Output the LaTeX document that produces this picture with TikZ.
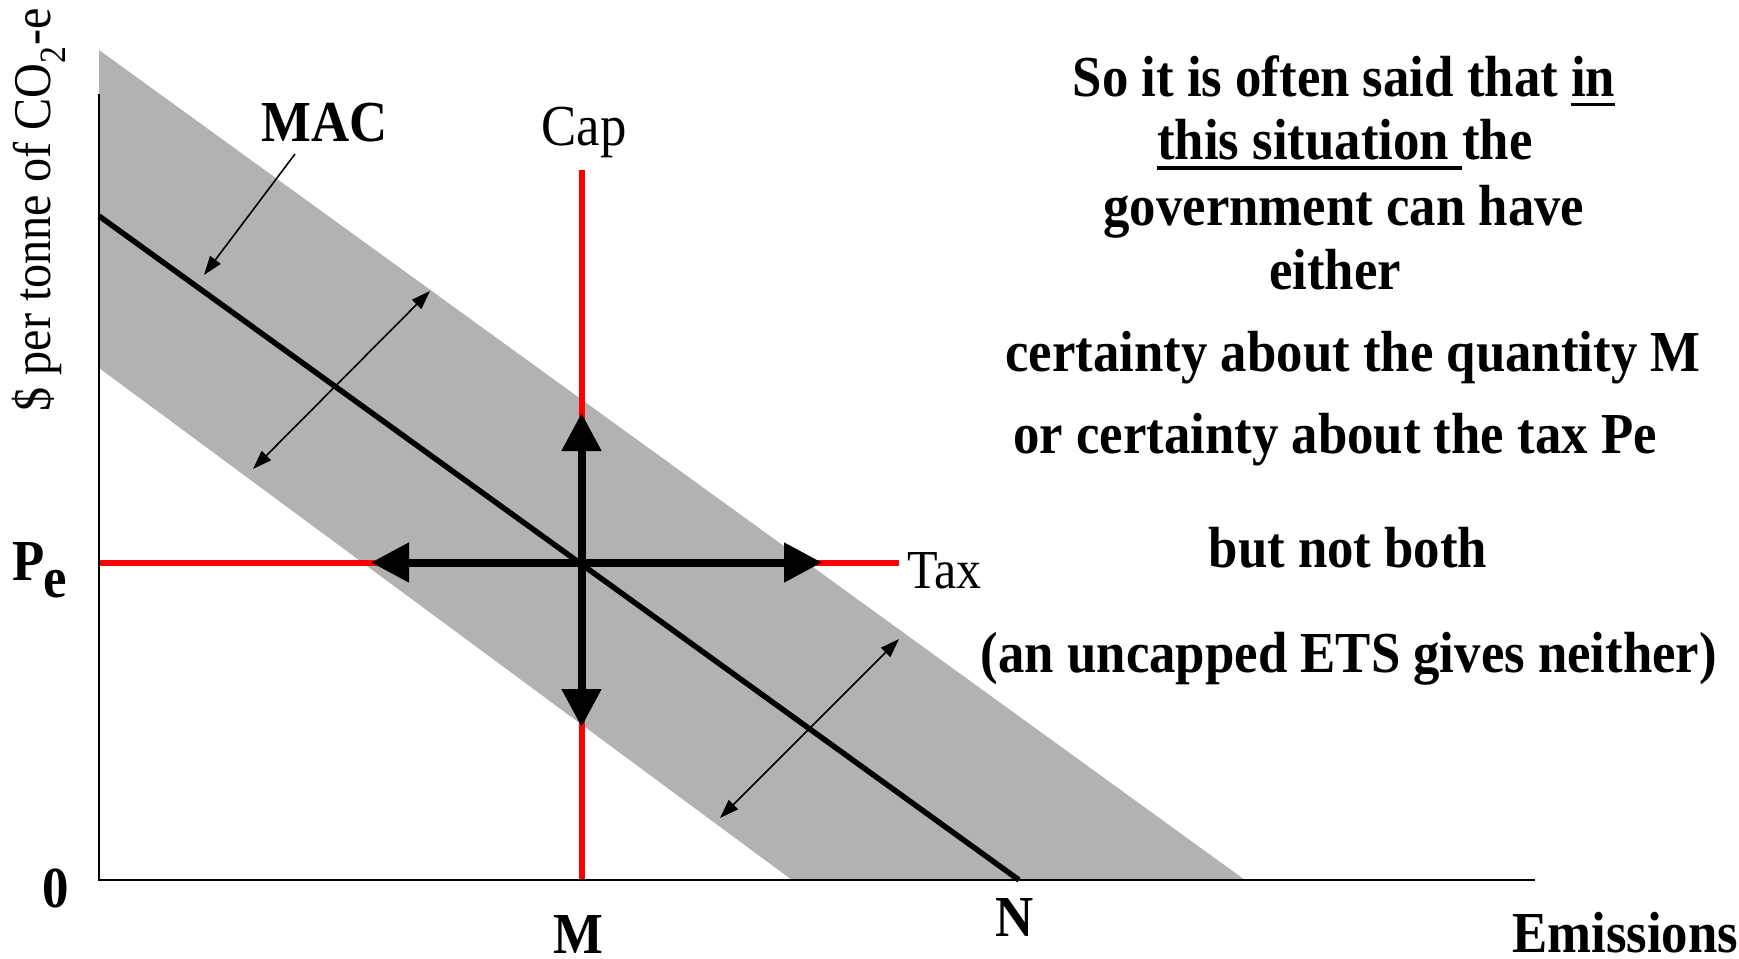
\documentclass[tikz,border=0pt]{standalone}
\usepackage{fontspec}
\setmainfont{Liberation Serif}[FakeStretch=0.91]
\usetikzlibrary{arrows.meta}
\definecolor{bandgray}{gray}{0.70}
\definecolor{capred}{RGB}{255,0,0}
\newcommand{\myul}[3]{\setbox0\hbox{#1}\rlap{\rule[#2]{\wd0}{#3}}\box0}
\begin{document}
\begin{tikzpicture}[x=1pt,y=-1pt,
  axisline/.style={line width=2pt, black},
  macline/.style={line width=5.5pt, black},
  redline/.style={line width=6pt, capred},
  bigarrow/.style={line width=8pt, -{Triangle[length=38pt,width=38pt]}},
  thinarrow/.style={line width=1.6pt, {Triangle[length=19pt,width=13pt]}-{Triangle[length=19pt,width=13pt]}},
  pointer/.style={line width=1.6pt, -{Triangle[length=19pt,width=13pt]}},
  boldlbl/.style={font=\fontsize{58}{62}\selectfont\bfseries, inner sep=0pt},
  reglbl/.style={font=\fontsize{58}{62}\selectfont, inner sep=0pt},
  rtext/.style={font=\fontsize{58}{62}\selectfont\bfseries, inner sep=0pt, anchor=base},
]
\useasboundingbox (0,0) rectangle (1739,958);

% coordinates
\coordinate (O) at (99,880);
\coordinate (Ytop) at (99,94);
\coordinate (Xend) at (1535,880);
\coordinate (Eq) at (581.5,562.5);
\coordinate (capTop) at (581.5,170);
\coordinate (capBot) at (581.5,880);
\coordinate (taxL) at (99,562.5);
\coordinate (taxR) at (899,562.5);
\coordinate (macL) at (99,216);
\coordinate (macR) at (1019,880);
\coordinate (aL) at (371,562.5);
\coordinate (aR) at (822,562.5);
\coordinate (aU) at (581.5,413);
\coordinate (aD) at (581.5,727);
\coordinate (s1a) at (253,469);
\coordinate (s1b) at (430,291);
\coordinate (s2a) at (720,818);
\coordinate (s2b) at (899,639);
\coordinate (macFrom) at (295,154);
\coordinate (macTo) at (204,275);

% band
\fill[bandgray] (99,50) -- (1245,880) -- (792,880) -- (99,368) -- cycle;

% red cap and tax lines
\draw[redline] (capTop) -- (capBot);
\draw[redline] (taxL) -- (taxR);

% MAC line
\draw[macline] (macL) -- (macR);

% thick arrows
\draw[bigarrow] (Eq) -- (aL);
\draw[bigarrow] (Eq) -- (aR);
\draw[bigarrow] (Eq) -- (aU);
\draw[bigarrow] (Eq) -- (aD);

% thin double arrows
\draw[thinarrow] (s1a) -- (s1b);
\draw[thinarrow] (s2a) -- (s2b);
\draw[pointer] (macFrom) -- (macTo);

% axes
\draw[axisline] (Ytop) -- (O) -- (Xend);

% labels
\node[boldlbl] (mac) at (325,123) {MAC};
\node[reglbl, anchor=base] (cap) at (584,145) {Cap};
\node[reglbl, anchor=base west, font=\fontsize{55}{60}\selectfont] (tax) at (907,588) {Tax};
\node[boldlbl, anchor=base west] (pe) at (12,580) {P\kern-1pt\raisebox{-17pt}{e}};
\node[boldlbl, anchor=base] (zero) at (56,907) {0};
\node[boldlbl, anchor=base] (m) at (578,953) {M};
\node[boldlbl, anchor=base] (n) at (1015,936) {N};
\node[boldlbl, anchor=base west] (emis) at (1512,952) {Emissions};
\node[reglbl, font=\fontsize{53}{60}\selectfont, rotate=90, anchor=base] (ylab) at (50,210) {\$ per tonne of CO\textsubscript{2}-e};

% right-hand text
\node[rtext] (t1) at (1344,96) {So it is often said that \myul{in}{-10pt}{3.5pt}};
\node[rtext] (t2) at (1345,159) {\myul{this situation\ }{-10.5pt}{4pt}the};
\node[rtext] (t3) at (1344,225) {government can have};
\node[rtext] (t4) at (1335,289) {either};
\node[rtext] (t5) at (1353,371) {certainty about the quantity M};
\node[rtext] (t6) at (1335,453) {or certainty about the tax Pe};
\node[rtext] (t7) at (1348,567) {but not both};
\node[rtext] (t8) at (1349,672) {(an uncapped ETS gives neither)};
\end{tikzpicture}
\end{document}
